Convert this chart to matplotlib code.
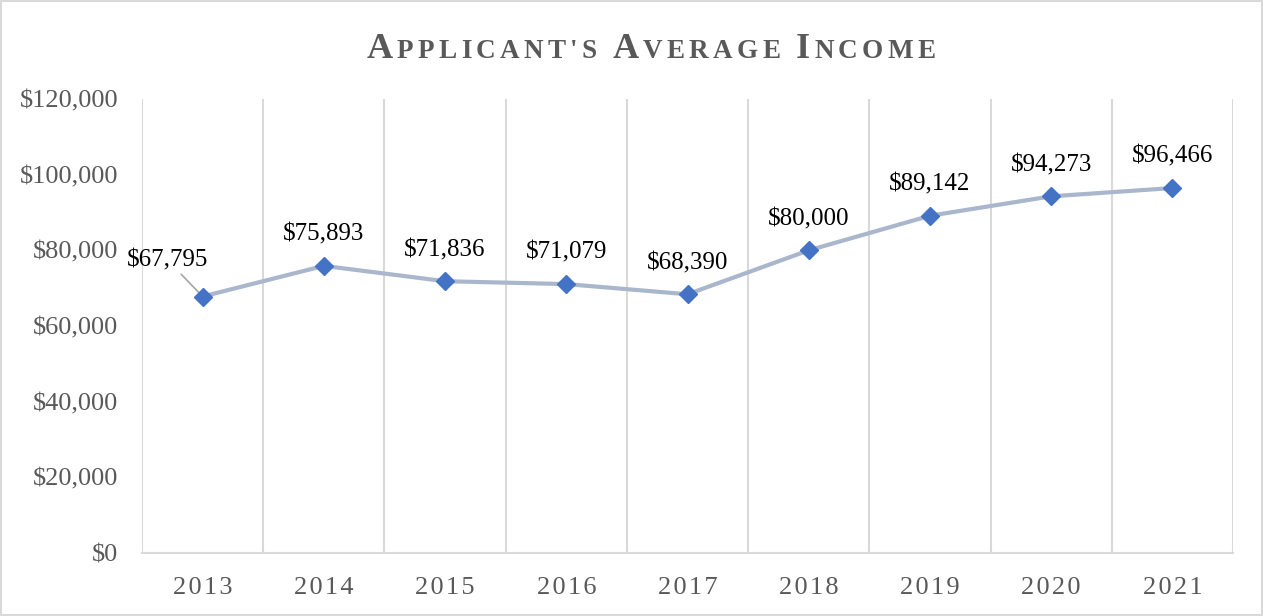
import matplotlib.pyplot as plt
import numpy as np
from matplotlib.patches import Rectangle

years = ['2013', '2014', '2015', '2016', '2017', '2018', '2019', '2020', '2021']
income = [67795, 75893, 71836, 71079, 68390, 80000, 89142, 94273, 96466]
title_words = ["Applicant's", "Average", "Income"]

plt.rcParams['font.family'] = ['Liberation Serif', 'DejaVu Serif']

fig = plt.figure(figsize=(12.63, 6.16), dpi=100)
ax = fig.add_axes([142/1263, 1 - 553/616, (1233-142)/1263, (553-99)/616])

x = np.arange(len(years))
ax.plot(x, income, color='#A9B6CC', lw=3, zorder=3)
ax.plot(x, income, ls='none', marker='D', ms=9.5, color='#4472C4', zorder=4)

for i, v in enumerate(income):
    lab = '${:,}'.format(v)
    if i == 0:
        ax.annotate(lab, (i, v), xytext=(-25, 26), textcoords='offset points',
                    ha='center', va='center', fontsize=18, color='black',
                    arrowprops=dict(arrowstyle='-', color='#A6A6A6', lw=1.2,
                                    shrinkA=0, shrinkB=3))
    else:
        ax.annotate(lab, (i, v), xytext=(0, 22.5), textcoords='offset points',
                    ha='center', va='center', fontsize=18, color='black')

ax.set_xlim(-0.5, len(years) - 0.5)
ax.set_ylim(0, 120000)
ax.set_yticks(np.arange(0, 120001, 20000))
ax.set_yticklabels(['${:,}'.format(t) for t in range(0, 120001, 20000)])
ax.set_xticks(x)
ax.set_xticklabels(['\u200a'.join(y) for y in years])
ax.set_xticks(np.arange(-0.5, len(years)), minor=True)
ax.grid(which='minor', axis='x', color='#D9D9D9', lw=1.5)
ax.tick_params(which='both', length=0)
ax.tick_params(axis='y', labelsize=19, labelcolor='#595959', pad=17)
ax.tick_params(axis='x', labelsize=19, labelcolor='#595959', pad=17)
for s in ['top', 'right', 'left']:
    ax.spines[s].set_visible(False)
ax.spines['bottom'].set_color('#D9D9D9')
ax.spines['bottom'].set_linewidth(1.5)

# title in small caps, one character at a time with letter spacing
renderer = fig.canvas.get_renderer()
chars = []
for w_i, word in enumerate(title_words):
    chars.append((word[0].upper(), 26))
    for c in word[1:]:
        chars.append((c.upper(), 19.5))
    if w_i < len(title_words) - 1:
        chars.append((' ', 19.5))
spacing = 4.3
texts = []
widths = []
for c, size in chars:
    t = fig.text(0, 0, c if c != ' ' else '', fontsize=size, fontweight='bold',
                 color='#595959', ha='left', va='baseline')
    texts.append(t)
    if c == ' ':
        widths.append(0.25 * size * 100 / 72 + spacing)
    else:
        widths.append(t.get_window_extent(renderer).width + spacing)
total = sum(widths) - spacing
cx = 651 - total / 2
for t, w in zip(texts, widths):
    t.set_position((cx / 1263, 1 - 58 / 616))
    cx += w

fig.add_artist(Rectangle((0.0008, 0.0016), 0.9984, 0.9968, transform=fig.transFigure,
                         fill=False, edgecolor='#D9D9D9', lw=1.5))

fig.savefig('out.png', dpi=100)
